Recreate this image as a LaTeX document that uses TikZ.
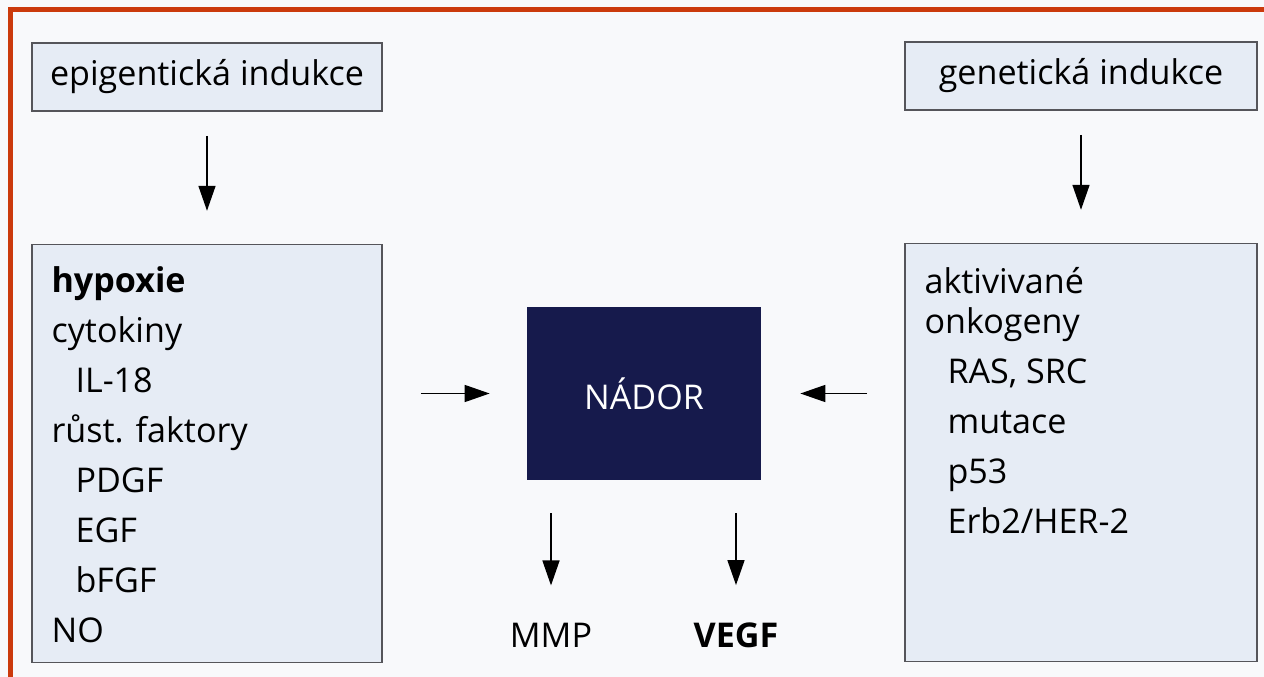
\documentclass[tikz,border=0pt]{standalone}
\usepackage{fontspec}
\setmainfont{Open Sans}
\usetikzlibrary{arrows.meta, positioning}

\definecolor{pageframe}{RGB}{203,58,12}
\definecolor{paper}{RGB}{248,249,251}
\definecolor{boxfill}{RGB}{230,236,245}
\definecolor{boxline}{RGB}{85,85,90}
\definecolor{tumorblue}{RGB}{22,26,76}

\begin{document}
\begin{tikzpicture}[
  node distance=2.64cm,
  every node/.style={font=\fontsize{19.4}{28.45}\selectfont, text=black},
  inducer/.style={rectangle, draw=boxline, line width=0.9pt, fill=boxfill,
                  minimum width=7cm, minimum height=1.36cm},
  factorbox/.style={rectangle, draw=boxline, line width=0.9pt, fill=boxfill,
                    minimum width=7cm, minimum height=8.36cm},
  factorlist/.style={align=left, inner sep=0pt, anchor=base west},
  tumorbox/.style={rectangle, fill=tumorblue, text=white,
                   minimum width=4.68cm, minimum height=3.46cm},
  product/.style={anchor=base},
  arrow/.style={-{Triangle[length=0.5cm, width=0.34cm]}, line width=0.85pt, black}
]
  \fill[paper] (0,0) rectangle (25.28,-13.54);
  \useasboundingbox (0,0) rectangle (25.28,-13.54);
  \draw[pageframe, line width=0.1cm] (0.216,-13.54) |- (25.28,-0.196);

  % Induction (top row)
  \node[inducer] (epi) at (4.14,-1.54) {epigentická indukce};
  \node[inducer, minimum width=7.04cm] (gen) at (21.62,-1.52) {genetická indukce};

  % Factor boxes below them
  \node[factorbox, below=of epi] (epifactors) {};
  \node[factorbox, minimum width=7.04cm, below=of gen] (genfactors) {};

  % lists sit on the baseline of their last line
  \node[factorlist] (epilist) at ([shift={(0.4,-7.98)}]epifactors.north west)
    {\textbf{hypoxie}\\
     cytokiny\\
     \hspace*{0.48cm}IL-18\\
     růst. faktory\\
     \hspace*{0.48cm}PDGF\\
     \hspace*{0.48cm}EGF\\
     \hspace*{0.48cm}bFGF\\
     NO};

  \node[factorlist] (genlist) at ([shift={(0.4,-5.82)}]genfactors.north west)
    {aktivivané\\[-0.2cm]
     onkogeny\\
     \hspace*{0.46cm}RAS, SRC\\
     \hspace*{0.46cm}mutace\\
     \hspace*{0.46cm}p53\\
     \hspace*{0.46cm}Erb2/HER-2};

  % Tumour and its products
  \node[tumorbox] (tumor) at (12.88,-7.87) {NÁDOR};
  \node[product] (mmp) at (11.02,-12.94) {MMP};
  \node[product] (vegf) at (14.72,-12.94) {\textbf{VEGF}};

  % Arrows
  \draw[arrow, shorten <=0.48cm, shorten >=0.66cm] (epi) -- (epifactors);
  \draw[arrow, shorten <=0.48cm, shorten >=0.66cm] (gen) -- (genfactors);
  \draw[arrow, shorten <=0.76cm, shorten >=0.74cm] (epifactors.east |- tumor.west) -- (tumor.west);
  \draw[arrow, shorten <=0.74cm, shorten >=0.78cm] (genfactors.west |- tumor.east) -- (tumor.east);
  \draw[arrow, shorten <=0.66cm, shorten >=0.62cm] (tumor.south -| mmp) -- (mmp.north);
  \draw[arrow, shorten <=0.66cm, shorten >=0.62cm] (tumor.south -| vegf) -- (vegf.north);
\end{tikzpicture}
\end{document}
